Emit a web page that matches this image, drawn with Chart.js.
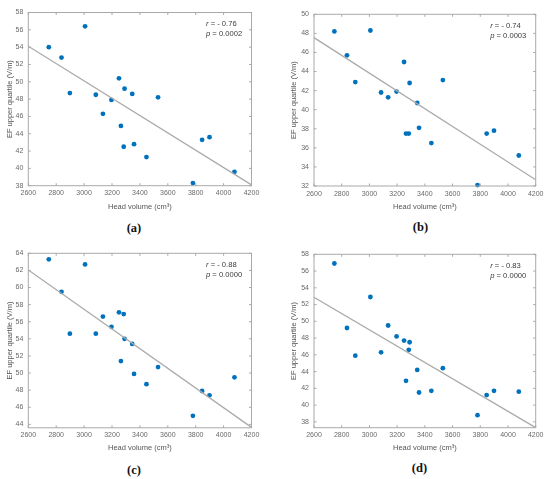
<!DOCTYPE html>
<html><head><meta charset="utf-8">
<script src="https://cdn.jsdelivr.net/npm/chart.js@4.4.0/dist/chart.umd.min.js"></script>
<style>
html,body{margin:0;padding:0;background:#fff;width:550px;height:479px;overflow:hidden;position:relative;}
canvas{position:absolute;}
.lab{position:absolute;font:bold 12.5px "Liberation Serif","DejaVu Serif",serif;color:#111;transform:translate(-50%,-50%);white-space:nowrap;}
</style></head><body>
<canvas id="ca" width="275" height="215" style="left:0;top:0;width:275px;height:215px"></canvas>
<canvas id="cb" width="275" height="215" style="left:275px;top:0;width:275px;height:215px"></canvas>
<canvas id="cc" width="275" height="215" style="left:0;top:240px;width:275px;height:215px"></canvas>
<canvas id="cd" width="275" height="215" style="left:275px;top:240px;width:275px;height:215px"></canvas>
<div class="lab" id="la" style="left:134px;top:227.5px"></div>
<div class="lab" id="lb" style="left:420.5px;top:227px"></div>
<div class="lab" id="lc" style="left:134px;top:469.5px"></div>
<div class="lab" id="ld" style="left:419.5px;top:468px"></div>
<script>
// ---- data ----
const headVolume = [2747, 2838, 2898, 3007, 3084, 3135, 3196, 3250, 3264, 3284, 3290, 3345, 3358, 3447, 3530, 3780, 3846, 3899, 4078];
const efA = [54.0, 52.8, 48.7, 56.4, 48.5, 46.3, 47.9, 50.4, 44.9, 42.5, 49.2, 48.6, 42.8, 41.3, 48.2, 38.3, 43.3, 43.6, 39.6];
const efB = [48.2, 45.7, 42.9, 48.3, 41.8, 41.3, 41.9, 45.0, 37.5, 37.5, 42.8, 40.7, 38.1, 36.5, 43.1, 32.1, 37.5, 37.8, 35.2];
const efC = [63.3, 59.5, 54.6, 62.7, 54.6, 56.6, 55.4, 57.1, 51.4, 56.9, 54.0, 53.4, 49.9, 48.7, 50.7, 45.0, 47.9, 47.4, 49.5];
const efD = [56.9, 49.2, 45.9, 52.9, 46.3, 49.5, 48.2, 47.7, 42.9, 46.6, 47.5, 44.2, 41.5, 41.7, 44.4, 38.8, 41.2, 41.7, 41.6];
const fitX = [2600, 4200];
const fitA = [54.1, 38.1];
const fitB = [47.55, 32.65];
const fitC = [62.05, 43.65];
const fitD = [52.86, 37.3];
const xTicks = [2600, 2800, 3000, 3200, 3400, 3600, 3800, 4000, 4200];
const yTicksA = [38, 40, 42, 44, 46, 48, 50, 52, 54, 56, 58];
const yTicksB = [32, 34, 36, 38, 40, 42, 44, 46, 48, 50];
const yTicksC = [44, 46, 48, 50, 52, 54, 56, 58, 60, 62, 64];
const yTicksD = [38, 40, 42, 44, 46, 48, 50, 52, 54, 56, 58];
const yRangeA = [38, 58];
const yRangeB = [32, 50];
const yRangeC = [43.6, 64];
const yRangeD = [37.3, 58];
const rValues = ['- 0.76', '- 0.74', '- 0.88', '- 0.83'];
const pValues = ['0.0002', '0.0003', '0.0000', '0.0000'];
const panelLabels = ['(a)', '(b)', '(c)', '(d)'];
const xTitle = 'Head volume (cm\u00B3)';
const yTitle = 'EF upper quartile (V/m)';

// ---- styling ----
const FONT = '"Liberation Sans", Arial, Helvetica, sans-serif';
const AXIS_COL = '#a9a9a9';
const TICK_COL = '#6a6a6a';
const TITLE_COL = '#555';

const framePlugin = {
  id: 'frame',
  afterDraw(chart) {
    const o = chart.options.plugins.frame;
    const {ctx, chartArea: {left, right, top, bottom}, scales: {x, y}} = chart;
    ctx.save();
    ctx.strokeStyle = AXIS_COL;
    ctx.lineWidth = 1;
    ctx.strokeRect(left, top, right - left, bottom - top);
    const tl = 2.5;
    ctx.beginPath();
    x.ticks.forEach(t => {
      const px = x.getPixelForValue(t.value);
      ctx.moveTo(px, bottom); ctx.lineTo(px, bottom - tl);
      ctx.moveTo(px, top); ctx.lineTo(px, top + tl);
    });
    y.ticks.forEach(t => {
      const py = y.getPixelForValue(t.value);
      ctx.moveTo(left, py); ctx.lineTo(left + tl, py);
      ctx.moveTo(right, py); ctx.lineTo(right - tl, py);
    });
    ctx.stroke();
    // annotation
    ctx.fillStyle = '#3a3a3a';
    ctx.textBaseline = 'middle';
    ctx.textAlign = 'left';
    const x0 = right - 45.5;
    const lines = [['r', ' = ' + o.r], ['p', ' = ' + o.p]];
    const ys = [top + 11.8, top + 21.6];
    lines.forEach((ln, i) => {
      ctx.font = 'italic 7.6px ' + FONT;
      ctx.fillText(ln[0], x0, ys[i]);
      const w = ctx.measureText(ln[0]).width;
      ctx.font = '7.6px ' + FONT;
      ctx.fillText(ln[1], x0 + w, ys[i]);
    });
    ctx.restore();
  }
};

function makeChart(id, ef, fit, yTicks, yRange, idx, lay) {
  const pts = headVolume.map((v, i) => ({x: v, y: ef[i]}));
  const line = fitX.map((v, i) => ({x: v, y: fit[i]}));
  return new Chart(document.getElementById(id), {
    type: 'scatter',
    data: {
      datasets: [
        {type: 'line', data: line, borderColor: '#ababab', borderWidth: 1.3, pointRadius: 0, fill: false, order: 0},
        {data: pts, backgroundColor: '#0072BD', borderWidth: 0, pointRadius: 2.4, pointHoverRadius: 2.4, order: 1, clip: false}
      ]
    },
    options: {
      responsive: false,
      animation: false,
      events: [],
      layout: {padding: {left: lay.padL, right: lay.padR, top: lay.padT, bottom: 0}},
      plugins: {legend: {display: false}, tooltip: {enabled: false}, frame: {r: rValues[idx], p: pValues[idx]}},
      scales: {
        x: {
          type: 'linear', min: xTicks[0], max: xTicks[xTicks.length - 1],
          grid: {display: false, drawTicks: false}, border: {display: false},
          afterBuildTicks: s => { s.ticks = xTicks.map(v => ({value: v})); },
          afterFit: s => { s.height = lay.axisH; },
          ticks: {font: {size: 7, family: FONT}, color: TICK_COL, padding: lay.xTickPad, maxRotation: 0, autoSkip: false, callback: v => String(v)},
          title: {display: true, text: xTitle, font: {size: 7.5, family: FONT}, color: TITLE_COL, padding: {top: 0, bottom: lay.xTitlePad}}
        },
        y: {
          type: 'linear', min: yRange[0], max: yRange[1],
          grid: {display: false, drawTicks: false}, border: {display: false},
          afterBuildTicks: s => { s.ticks = yTicks.map(v => ({value: v})); },
          afterFit: s => { s.width = lay.axisW; },
          ticks: {font: {size: 7, family: FONT}, color: TICK_COL, padding: 5, autoSkip: false, callback: v => String(v)},
          title: {display: true, text: yTitle, font: {size: 7.5, family: FONT}, color: TITLE_COL, padding: {top: 5.3, bottom: 0}}
        }
      }
    },
    plugins: [framePlugin]
  });
}

makeChart('ca', efA, fitA, yTicksA, yRangeA, 0, {padL: 0, axisW: 28.3, padR: 23.5, padT: 12.5, axisH: 29.3, xTickPad: 3.5, xTitlePad: 3.5});
makeChart('cb', efB, fitB, yTicksB, yRangeB, 1, {padL: 9.5, axisW: 29.5, padR: 14.3, padT: 14.3, axisH: 29, xTickPad: 3.5, xTitlePad: 3.8});
makeChart('cc', efC, fitC, yTicksC, yRangeC, 2, {padL: 0, axisW: 28.3, padR: 23.5, padT: 13.3, axisH: 27.2, xTickPad: 3, xTitlePad: 2.2});
makeChart('cd', efD, fitD, yTicksD, yRangeD, 3, {padL: 9.5, axisW: 29.5, padR: 14.3, padT: 14.3, axisH: 27.3, xTickPad: 3, xTitlePad: 2.2});

['la', 'lb', 'lc', 'ld'].forEach((id, i) => { document.getElementById(id).textContent = panelLabels[i]; });
</script>
</body></html>
